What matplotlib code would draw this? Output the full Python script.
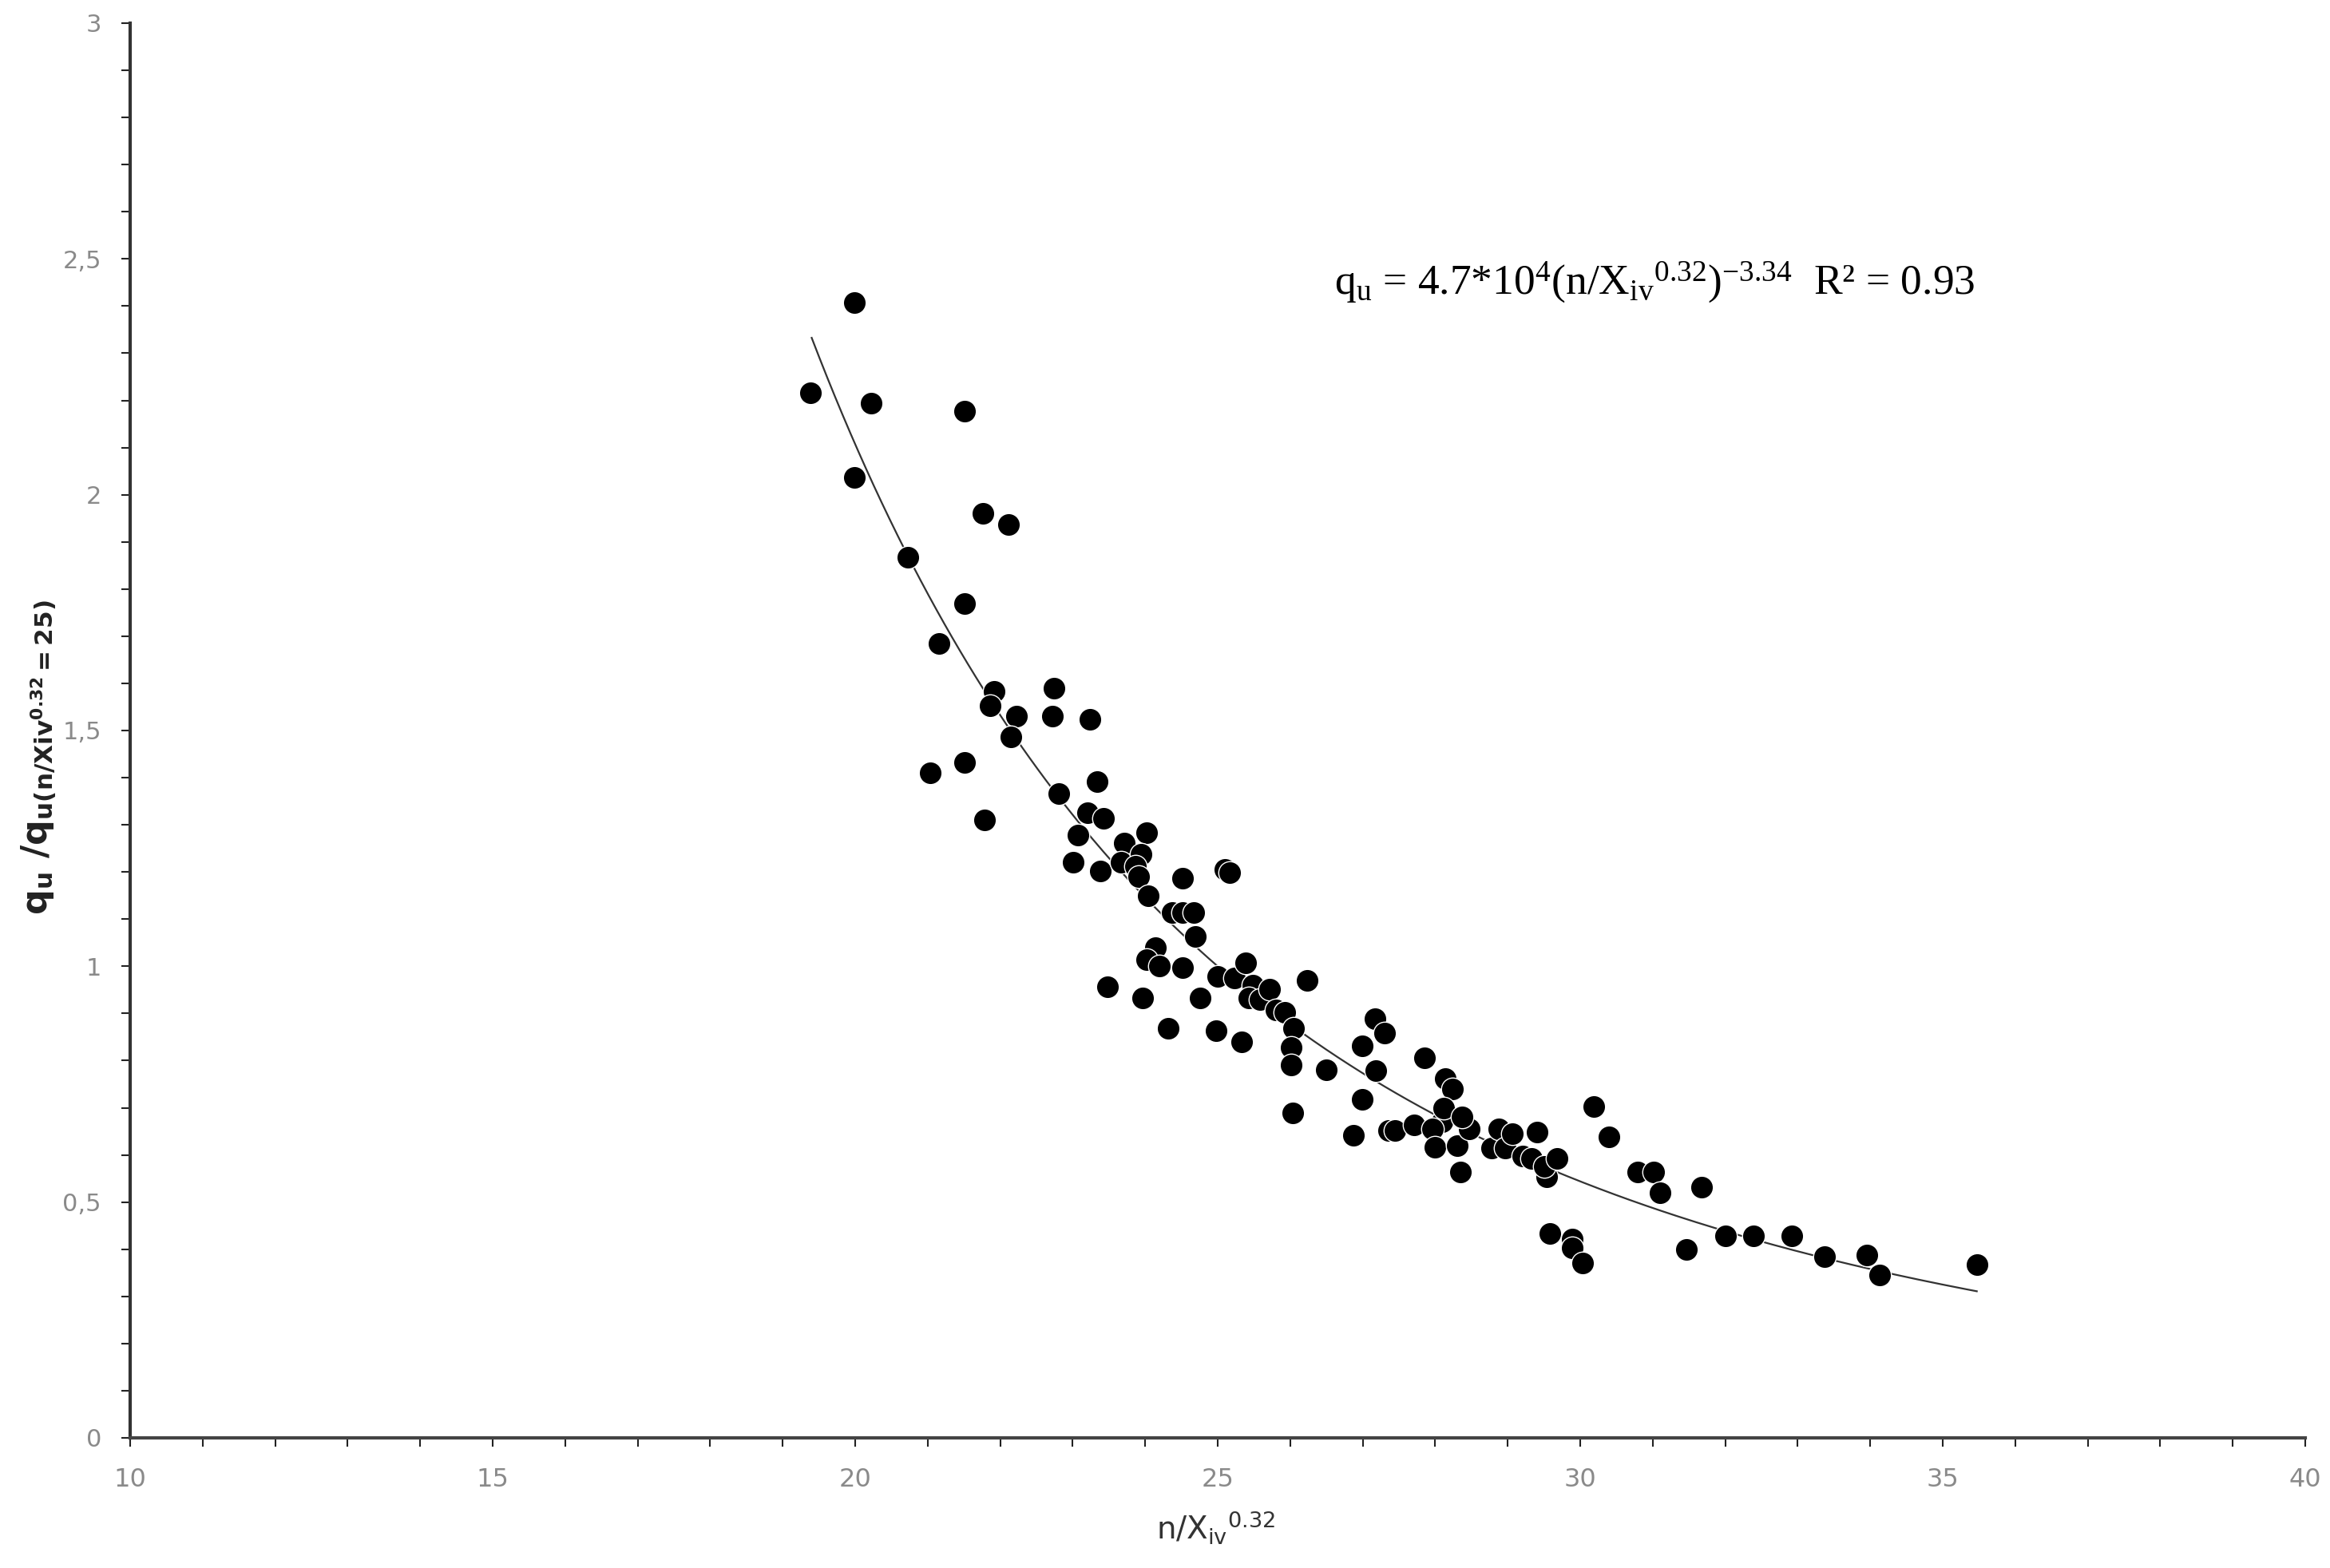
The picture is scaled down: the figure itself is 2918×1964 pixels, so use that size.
import matplotlib
matplotlib.use("Agg")
import matplotlib.pyplot as plt
import numpy as np
from matplotlib.ticker import MultipleLocator, FuncFormatter

plt.rcParams['mathtext.default'] = 'regular'

# ---- data ----
x_vals = [19.38, 19.99, 20.22, 19.99, 20.73, 21.51, 21.76, 22.11, 21.51, 21.16,
          21.92, 21.86, 22.74, 22.72, 22.23, 22.15, 23.24, 21.04, 21.51, 21.78,
          22.81, 23.34, 23.20, 23.42, 23.07, 24.02, 23.71, 23.01, 23.38, 23.67,
          23.94, 23.87, 23.91, 24.51, 25.10, 25.16, 24.04, 24.37, 24.51, 24.67,
          24.69, 24.14, 24.02, 24.20, 24.51, 23.48, 23.97, 24.32, 24.76, 25.00,
          25.23, 25.39, 25.49, 25.43, 25.58, 25.72, 25.80, 25.92, 26.05, 26.01,
          26.01, 26.23, 24.98, 25.33, 26.03, 26.50, 26.99, 27.17, 27.30, 27.18,
          26.99, 26.87, 27.36, 27.45, 27.71, 27.85, 28.10, 27.96, 28.14, 28.24,
          28.12, 28.00, 28.30, 28.47, 28.37, 28.35, 28.78, 28.88, 28.96, 29.06,
          29.21, 29.33, 29.41, 29.54, 29.50, 29.68, 29.58, 29.89, 29.89, 30.03,
          30.19, 30.40, 30.79, 31.01, 31.10, 31.46, 31.67, 32.00, 32.39, 32.92,
          33.37, 33.95, 34.13, 35.47]
y_vals = [2.216, 2.408, 2.194, 2.037, 1.867, 2.178, 1.961, 1.936, 1.769, 1.684,
          1.583, 1.552, 1.590, 1.530, 1.530, 1.486, 1.524, 1.410, 1.432, 1.310,
          1.366, 1.391, 1.325, 1.313, 1.278, 1.284, 1.262, 1.221, 1.202, 1.221,
          1.237, 1.212, 1.190, 1.187, 1.206, 1.199, 1.149, 1.114, 1.114, 1.114,
          1.064, 1.039, 1.014, 1.001, 0.998, 0.957, 0.932, 0.869, 0.932, 0.979,
          0.976, 1.007, 0.960, 0.932, 0.929, 0.951, 0.907, 0.903, 0.869, 0.828,
          0.790, 0.970, 0.863, 0.840, 0.689, 0.781, 0.831, 0.888, 0.859, 0.778,
          0.718, 0.642, 0.652, 0.652, 0.664, 0.806, 0.670, 0.655, 0.762, 0.740,
          0.699, 0.617, 0.620, 0.655, 0.680, 0.563, 0.614, 0.655, 0.614, 0.645,
          0.598, 0.592, 0.648, 0.554, 0.576, 0.592, 0.434, 0.422, 0.403, 0.371,
          0.702, 0.639, 0.563, 0.563, 0.519, 0.400, 0.532, 0.428, 0.428, 0.428,
          0.384, 0.387, 0.346, 0.368]

# power-law trend line parameters (from the equation on the chart)
fit_exponent = -3.34
fit_reference = 25.0
fit_x_start = 19.4
fit_x_end = 35.47

x_ticks = [10, 15, 20, 25, 30, 35, 40]
y_ticks = [0, 0.5, 1, 1.5, 2, 2.5, 3]

equation_text = ('q$_u$ = 4.7*10$^4$(n/X$_{iv}$$^{0.32}$)$^{-3.34}$  R² = 0.93')
x_label = 'n/X$_{iv}$$^{0.32}$'
y_label = 'q$_u$ /q$_{u(n/Xiv^{0.32}=25)}$'

narrow = ['Liberation Sans Narrow', 'DejaVu Sans Condensed', 'DejaVu Sans']

# ---- figure ----
fig = plt.figure(figsize=(29.18, 19.64), dpi=100)
ax = fig.add_axes([163/2918, 1 - 1801/1964, (2887 - 163)/2918, (1801 - 29)/1964])

fx = np.linspace(fit_x_start, fit_x_end, 300)
fy = (fx / fit_reference) ** fit_exponent
ax.plot(fx, fy, color='#333333', lw=1.6, zorder=2)

ax.scatter(x_vals, y_vals, s=420, c='black', edgecolors='white', linewidths=1.0, zorder=3)

ax.set_xlim(10, 40)
ax.set_ylim(0, 3)
ax.set_xticks(x_ticks)
ax.set_yticks(y_ticks)
ax.xaxis.set_minor_locator(MultipleLocator(1))
ax.yaxis.set_minor_locator(MultipleLocator(0.1))
ax.yaxis.set_major_formatter(FuncFormatter(lambda v, p: ('%g' % v).replace('.', ',')))

for s in ['top', 'right']:
    ax.spines[s].set_visible(False)
ax.spines['left'].set_linewidth(3.0)
ax.spines['left'].set_color('#333333')
ax.spines['bottom'].set_linewidth(3.0)
ax.spines['bottom'].set_color('#444444')

ax.tick_params(axis='both', which='both', direction='out', color='#222222', width=1.5)
ax.tick_params(axis='both', which='major', length=8)
ax.tick_params(axis='both', which='minor', length=8)
ax.tick_params(axis='x', which='major', labelsize=23, labelcolor='#8a8a8a', pad=19)
ax.tick_params(axis='y', which='major', labelsize=22, labelcolor='#8a8a8a', pad=18)
for lab in ax.get_xticklabels():
    lab.set_family(narrow)

ax.set_xlabel(x_label, fontsize=28, color='#333333', family=narrow)
ax.xaxis.set_label_coords(0.499, -0.050)
ax.set_ylabel(y_label, fontsize=32, fontweight='bold', color='#222222', family=narrow)
ax.yaxis.set_label_coords(-0.033, 0.481)

fig.text(1671/2918, 1 - 354/1964, equation_text, fontsize=38.5, color='black',
         family=['Liberation Serif', 'DejaVu Serif'], ha='left', va='center')

fig.savefig('out.png', dpi=100, facecolor='white')
